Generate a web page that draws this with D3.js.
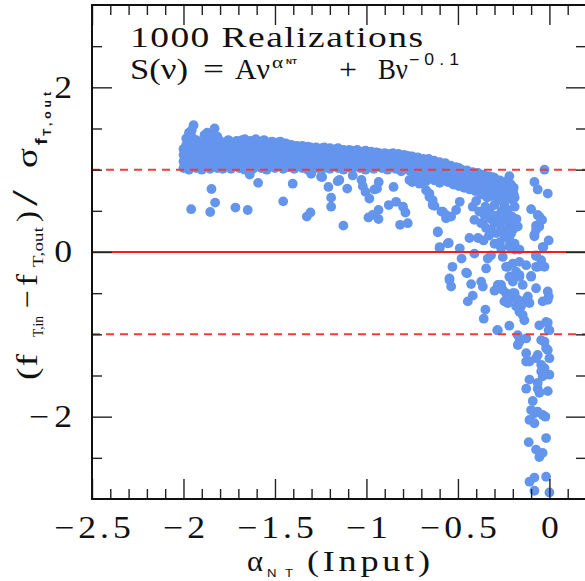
<!DOCTYPE html>
<html>
<head>
<meta charset="utf-8">
<script src="https://cdn.jsdelivr.net/npm/d3@7/dist/d3.min.js"></script>
<style>
  html, body { margin: 0; padding: 0; background: #fff; }
  svg { display: block; }
  text { fill: #111; }
</style>
</head>
<body>
<svg id="chart" width="585" height="581"></svg>
<script>
// ---- tick values ----
const xMajorTicks = [-2.5, -2, -1.5, -1, -0.5, 0];
const xTickLabels = ["\u22122.5", "\u22122", "\u22121.5", "\u22121", "\u22120.5", "0"];
const xMinorTicks = [-2.4, -2.3, -2.2, -2.1, -1.9, -1.8, -1.7, -1.6, -1.4, -1.3, -1.2, -1.1,
                     -0.9, -0.8, -0.7, -0.6, -0.4, -0.3, -0.2, -0.1, 0.1];
const yMajorTicks = [-2, 0, 2];
const yTickLabels = ["\u22122", "0", "2"];
const yMinorTicks = [-2.5, -1.5, -1, -0.5, 0.5, 1, 1.5, 2.5];
const refSolid = [0];
const refDashed = [-1, 1];

// ---- realizations: input alpha_NT vs normalised thermal-flux residual ----
// plateau: columns of [alpha, [residuals...]]
const plateauColumns = [
  [-2.000, [1.02, 1.10, 1.18, 1.25]],
  [-1.985, [1.05, 1.14, 1.22, 1.30, 1.38]],
  [-1.970, [1.00, 1.08, 1.20, 1.33, 1.45]],
  [-1.955, [1.03, 1.12, 1.26, 1.40, 1.48]],
  [-1.945, [1.16, 1.30, 1.54]],
  [-1.930, [1.02, 1.10, 1.21, 1.36]],
  [-1.915, [1.05, 1.15, 1.25, 1.32]],
  [-1.900, [1.00, 1.09, 1.19, 1.28]],
  [-1.885, [1.04, 1.13, 1.22, 1.35, 1.42]],
  [-1.870, [1.07, 1.17, 1.27, 1.45]],
  [-1.855, [1.01, 1.11, 1.21, 1.31, 1.39]],
  [-1.840, [1.05, 1.15, 1.24, 1.35, 1.43]],
  [-1.830, [1.09, 1.19, 1.50]],
  [-1.815, [1.02, 1.12, 1.22, 1.30, 1.40]],
  [-1.800, [1.06, 1.16, 1.26, 1.35]],
  [-1.785, [1.01, 1.10, 1.19, 1.29]],
  [-1.770, [1.04, 1.13, 1.23, 1.32]],
  [-1.755, [1.08, 1.17, 1.27, 1.36]],
  [-1.740, [1.01, 1.11, 1.21, 1.30]],
  [-1.725, [1.05, 1.15, 1.24, 1.33]],
  [-1.710, [1.09, 1.18, 1.27, 1.35]],
  [-1.695, [1.02, 1.12, 1.22, 1.31]],
  [-1.680, [1.06, 1.15, 1.25, 1.36]],
  [-1.665, [1.00, 1.10, 1.19, 1.29, 1.37]],
  [-1.650, [1.04, 1.13, 1.23, 1.32]],
  [-1.635, [1.08, 1.17, 1.26, 1.35]],
  [-1.620, [1.01, 1.11, 1.20, 1.30]],
  [-1.605, [1.05, 1.14, 1.24, 1.37]],
  [-1.590, [1.09, 1.18, 1.28, 1.34]],
  [-1.575, [1.02, 1.12, 1.21, 1.31]],
  [-1.560, [1.06, 1.15, 1.25, 1.36]],
  [-1.545, [1.00, 1.10, 1.19, 1.29]],
  [-1.530, [1.04, 1.13, 1.23, 1.33]],
  [-1.515, [1.08, 1.17, 1.26, 1.34]],
  [-1.500, [1.02, 1.11, 1.20, 1.30]],
  [-1.485, [1.05, 1.15, 1.24, 1.33]],
  [-1.470, [1.09, 1.18, 1.27, 1.34]],
  [-1.455, [1.01, 1.12, 1.21, 1.30]],
  [-1.440, [1.06, 1.15, 1.24, 1.32]],
  [-1.425, [1.03, 1.10, 1.19, 1.28]],
  [-1.410, [1.07, 1.14, 1.23, 1.30]],
  [-1.395, [1.01, 1.11, 1.18, 1.27]],
  [-1.380, [1.05, 1.15, 1.22, 1.29]],
  [-1.365, [1.09, 1.19, 1.26]],
  [-1.350, [1.02, 1.12, 1.21, 1.29]],
  [-1.335, [1.06, 1.16, 1.24]],
  [-1.320, [1.00, 1.10, 1.19, 1.28]],
  [-1.305, [1.04, 1.13, 1.22, 1.27]],
  [-1.290, [1.08, 1.17, 1.25]],
  [-1.275, [1.02, 1.11, 1.20, 1.27]],
  [-1.260, [1.06, 1.15, 1.23]],
  [-1.245, [1.00, 1.09, 1.18, 1.26]],
  [-1.230, [1.04, 1.13, 1.21, 1.27]],
  [-1.215, [1.07, 1.16, 1.24]],
  [-1.200, [1.01, 1.11, 1.19, 1.26]],
  [-1.185, [1.05, 1.14, 1.22]],
  [-1.170, [1.08, 1.17, 1.25]],
  [-1.155, [1.02, 1.11, 1.20, 1.26]],
  [-1.140, [1.06, 1.15, 1.23]],
  [-1.125, [1.00, 1.09, 1.18, 1.24]],
  [-1.110, [1.04, 1.13, 1.21]],
  [-1.095, [1.07, 1.16, 1.24]],
  [-1.080, [1.01, 1.10, 1.19, 1.23]],
  [-1.065, [1.05, 1.14, 1.21]],
  [-1.050, [1.08, 1.17, 1.24]],
  [-1.035, [1.02, 1.11, 1.19]],
  [-1.020, [1.06, 1.14, 1.22]],
  [-1.005, [1.00, 1.09, 1.17, 1.23]],
  [-0.990, [1.04, 1.12, 1.20]],
  [-0.975, [1.07, 1.15, 1.22]],
  [-0.960, [1.01, 1.10, 1.18]],
  [-0.945, [1.05, 1.13, 1.21]],
  [-0.930, [1.08, 1.16, 1.20]],
  [-0.915, [1.02, 1.11, 1.18]],
  [-0.900, [1.06, 1.14, 1.20]],
  [-0.885, [1.00, 1.09, 1.17]],
  [-0.870, [1.04, 1.12, 1.19]],
  [-0.855, [1.07, 1.15, 1.20]],
  [-0.840, [1.01, 1.10, 1.17]],
  [-0.825, [1.05, 1.13, 1.19]],
  [-0.810, [0.98, 1.08, 1.16]],
  [-0.795, [1.03, 1.11, 1.18]],
  [-0.780, [1.06, 1.14, 1.17]],
  [-0.765, [0.99, 1.09, 1.16]],
  [-0.750, [1.02, 1.12, 1.16]],
  [-0.735, [0.95, 1.06, 1.14]],
  [-0.720, [0.99, 1.09, 1.15]],
  [-0.705, [0.88, 0.96, 1.04, 1.12]],
  [-0.690, [0.92, 1.01, 1.08, 1.13]],
  [-0.675, [0.86, 0.97, 1.05, 1.12]],
  [-0.660, [0.90, 0.99, 1.08, 1.13]],
  [-0.645, [0.94, 1.03, 1.10]],
  [-0.630, [0.87, 0.97, 1.06, 1.11]],
  [-0.615, [0.91, 1.00, 1.08]],
  [-0.600, [0.84, 0.94, 1.03, 1.09]],
  [-0.585, [0.88, 0.97, 1.05]],
  [-0.570, [0.92, 1.00, 1.08]],
  [-0.555, [0.85, 0.95, 1.03]],
  [-0.540, [0.89, 0.98, 1.05]],
  [-0.525, [0.82, 0.93, 1.01]],
  [-0.510, [0.87, 0.96, 1.03]],
  [-0.495, [0.80, 0.90, 0.99, 1.02]],
  [-0.480, [0.84, 0.93, 1.00]],
  [-0.465, [0.78, 0.88, 0.97]],
  [-0.450, [0.82, 0.91, 0.99]],
  [-0.435, [0.76, 0.86, 0.95]],
  [-0.420, [0.80, 0.89, 0.97]],
  [-0.405, [0.74, 0.84, 0.93]],
  [-0.390, [0.78, 0.87, 0.96]],
  [-0.375, [0.72, 0.82, 0.91]],
  [-0.360, [0.76, 0.85, 0.94]],
  [-0.345, [0.70, 0.80, 0.89]],
  [-0.330, [0.74, 0.83, 0.92]],
  [-0.315, [0.68, 0.78, 0.87]],
  [-0.300, [0.72, 0.81, 0.90]],
  [-0.285, [0.66, 0.76, 0.85]],
  [-0.270, [0.70, 0.79, 0.87]],
  [-0.255, [0.74, 0.83]],
  [-0.240, [0.68, 0.79, 0.85]],
  [-0.225, [0.72, 0.80]],
  [-0.210, [0.66, 0.76, 0.82]],
  [-0.195, [0.70, 0.78]]
];

// points falling below the plateau at steep input indices
const plateauOutliers = [
  [-1.958, 0.52], [-1.847, 0.765], [-1.827, 0.60], [-1.854, 0.486], [-1.716, 0.54],
  [-1.649, 0.51], [-1.592, 0.84], [-1.638, 0.94], [-1.455, 0.615], [-1.403, 0.83],
  [-1.326, 0.43], [-1.306, 0.48], [-1.302, 0.95], [-1.242, 0.91], [-1.208, 0.79],
  [-1.193, 0.66], [-1.193, 0.55], [-1.157, 0.86], [-1.126, 0.32], [-1.105, 0.77],
  [-1.075, 0.93], [-1.027, 0.875], [-1.020, 0.80], [-1.005, 0.73], [-0.984, 0.65],
  [-0.989, 0.42], [-0.966, 0.45], [-0.934, 0.51], [-0.934, 0.40], [-0.942, 0.77],
  [-0.933, 0.85], [-0.878, 0.57], [-0.838, 0.61], [-0.800, 0.55], [-0.787, 0.48],
  [-0.852, 0.79], [-0.816, 0.33], [-0.774, 0.35], [-0.750, 0.85], [-0.710, 0.83],
  [-0.656, 0.71], [-0.638, 0.63], [-0.628, 0.56], [-0.583, 0.49], [-0.565, 0.41],
  [-0.610, 0.24], [-0.600, 0.06], [-0.556, 0.105], [-1.248, 0.915], [-1.148, 0.875],
  [-0.765, 0.875], [-0.956, 0.76]
];

// turnover region, alpha between about -0.7 and -0.15
const turnover = [
  [-0.610, 0.25], [-0.600, 0.045], [-0.550, 0.11], [-0.490, 0.045], [-0.480, -0.08],
  [-0.530, -0.18], [-0.546, -0.32], [-0.455, -0.25], [-0.437, 0.17], [-0.410, -0.02],
  [-0.390, 0.17], [-0.364, 0.35], [-0.410, 0.39], [-0.346, -0.20], [-0.337, -0.08],
  [-0.319, -0.04], [-0.264, 0.045], [-0.255, -0.06], [-0.219, 0.15], [-0.190, 0.03],
  [-0.164, 0.03], [-0.228, -0.18], [-0.200, -0.14], [-0.164, -0.12], [-0.127, -0.16],
  [-0.182, -0.24], [-0.164, -0.28], [-0.209, -0.30], [-0.310, 0.91], [-0.291, 0.79],
  [-0.255, 0.75], [-0.237, 0.65], [-0.273, 0.63], [-0.300, 0.57], [-0.328, 0.51],
  [-0.355, 0.45], [-0.373, 0.35], [-0.346, 0.29], [-0.319, 0.27], [-0.291, 0.23],
  [-0.246, 0.19], [-0.219, 0.33], [-0.209, 0.43], [-0.228, 0.51], [-0.246, 0.57],
  [-0.383, 0.49], [-0.419, 0.55], [-0.490, 0.61], [-0.510, 0.51], [-0.537, 0.43],
  [-0.565, 0.45], [-0.590, 0.49], [-0.638, 0.57], [-0.656, 0.67], [-0.674, 0.75],
  [-0.173, 0.31], [-0.200, 0.75], [-0.228, 0.77], [-0.219, 0.92], [-0.209, 0.75],
  [-0.200, 0.63], [-0.204, 0.43], [-0.255, 0.39], [-0.255, 0.63],
  [-0.400, 0.62], [-0.370, 0.70], [-0.340, 0.66], [-0.310, 0.70], [-0.280, 0.72],
  [-0.260, 0.50], [-0.290, 0.44], [-0.320, 0.40], [-0.350, 0.55], [-0.240, 0.41],
  [-0.270, 0.33], [-0.230, 0.27], [-0.210, 0.22], [-0.260, 0.26], [-0.300, 0.35],
  [-0.330, 0.20], [-0.360, 0.14], [-0.300, 0.10], [-0.270, 0.12], [-0.220, 0.07],
  [-0.190, 0.10], [-0.200, 0.27], [-0.180, 0.40], [-0.190, 0.55], [-0.190, 0.66],
  [-0.546, -0.34], [-0.537, -0.42], [-0.450, -0.26], [-0.428, -0.39], [-0.446, -0.60],
  [-0.419, -0.53], [-0.373, -0.36], [-0.364, -0.42], [-0.300, -0.47], [-0.264, -0.40],
  [-0.255, -0.46], [-0.350, -0.70], [-0.359, -0.81], [-0.282, -0.95], [-0.219, -0.895],
  [-0.246, -0.60], [-0.228, -0.62], [-0.200, -0.56], [-0.182, -0.66], [-0.164, -0.725],
  [-0.146, -0.765], [-0.137, -0.83], [-0.200, -0.50], [-0.164, -0.30], [-0.146, -0.40],
  [-0.127, -0.58], [-0.118, -0.54], [-0.109, -0.62], [-0.237, -0.18], [-0.219, -0.30],
  [-0.200, -0.36], [-0.190, -0.50], [-0.173, -0.58], [-0.155, -0.66], [-0.237, -0.50],
  [-0.282, -0.40], [-0.285, -0.95]
];

// flattest inputs, alpha close to 0
const nearFlat = [
  [-0.027, 1.00], [-0.082, 0.85], [-0.064, 0.76], [-0.009, 0.71], [-0.100, 0.52],
  [-0.064, 0.45], [-0.045, 0.39], [-0.073, 0.32], [-0.082, 0.21], [-0.004, 0.14],
  [-0.037, 0.06], [-0.073, -0.04], [-0.045, -0.10], [-0.037, -0.17], [-0.009, -0.48],
  [-0.037, -0.60], [-0.009, -0.58], [-0.055, -0.89], [-0.009, -0.86], [0.000, -0.95],
  [-0.173, -1.01], [-0.164, -1.09], [-0.127, -1.05], [-0.173, -1.13], [-0.045, -1.07],
  [-0.027, -1.09], [-0.018, -1.17], [-0.127, -1.23], [-0.127, -1.33], [-0.109, -1.33],
  [-0.100, -0.30], [-0.064, -0.18], [-0.073, -0.44], [-0.100, -0.29],
  [-0.055, 0.43], [-0.040, 0.39], [-0.055, 0.31], [-0.073, 0.27], [-0.082, 0.19],
  [-0.033, 0.06], [-0.073, -0.05], [-0.027, -0.18], [-0.073, -0.18], [-0.004, -0.54],
  [-0.018, -0.85], [-0.004, -0.95], [-0.009, -1.19],
  [-0.064, -1.25], [-0.073, -1.29], [-0.045, -1.37], [-0.027, -1.41], [-0.045, -1.45],
  [-0.037, -1.51], [0.000, -1.29], [0.000, -1.49], [-0.109, -1.55], [-0.127, -1.66],
  [-0.064, -1.59], [-0.064, -1.66], [-0.055, -1.71], [-0.009, -1.69], [-0.091, -1.81],
  [-0.100, -1.92], [-0.109, -2.04], [-0.082, -2.08], [-0.082, -1.96], [-0.064, -1.94],
  [-0.037, -1.98], [-0.022, -2.00], [-0.113, -2.31], [-0.018, -2.26], [-0.073, -2.40],
  [-0.055, -2.49], [-0.037, -2.44], [-0.109, -2.79], [-0.082, -2.74], [-0.018, -2.73],
  [-0.082, -2.90], [0.000, -2.92]
];

const points = [];
plateauColumns.forEach(([a, ys]) => ys.forEach(r => points.push([a, r])));
plateauOutliers.forEach(p => points.push(p));
turnover.forEach(p => points.push(p));
nearFlat.forEach(p => points.push(p));

// ---- layout ----
const svg = d3.select("#chart");
const plotLeft = 92, plotRight = 586, plotTop = 5, plotBottom = 499;
const x = d3.scaleLinear().domain([-2.5, 0.2]).range([plotLeft, plotRight]);
const y = d3.scaleLinear().domain([-3, 3]).range([plotBottom, plotTop]);

const serif = "'Liberation Serif', 'DejaVu Serif', serif";
const sans = "'Liberation Sans', 'DejaVu Sans', sans-serif";

// stretch a text horizontally about px, then widen its letter gaps to fill target
function fitText(t, px, target, stretch = 1) {
  const w = t.node().getComputedTextLength();
  let s = stretch;
  if (w * s > target) s = target / w;
  t.attr("transform", `translate(${px},0) scale(${s},1) translate(${-px},0)`);
  if (w * s < target - 0.5) {
    t.attr("textLength", target / s).attr("lengthAdjust", "spacing");
  }
  return t;
}

// points
svg.append("g")
  .selectAll("circle")
  .data(points)
  .join("circle")
  .attr("cx", d => x(d[0]))
  .attr("cy", d => y(d[1]))
  .attr("r", 4.9)
  .attr("fill", "#6495ED");

// reference lines
svg.append("g").selectAll("line")
  .data(refSolid).join("line")
  .attr("x1", plotLeft).attr("x2", plotRight)
  .attr("y1", d => y(d)).attr("y2", d => y(d))
  .attr("stroke", "#ff1a1a").attr("stroke-width", 2);
svg.append("g").selectAll("line")
  .data(refDashed).join("line")
  .attr("x1", plotLeft).attr("x2", plotRight)
  .attr("y1", d => y(d)).attr("y2", d => y(d))
  .attr("stroke", "#ee3b3b").attr("stroke-width", 2)
  .attr("stroke-dasharray", "8,6");

// ticks on all four sides, pointing inward
function tickAxis(axisFn, scale, values, len, transform, labels, pad = 19) {
  const ax = axisFn(scale).tickValues(values).tickSizeInner(-len).tickSizeOuter(0);
  if (labels) ax.tickFormat((d, i) => labels[i]).tickPadding(pad);
  else ax.tickFormat("");
  const g = svg.append("g").attr("transform", transform).call(ax);
  g.attr("font-family", serif);
  g.select(".domain").remove();
  g.selectAll(".tick line").attr("stroke", "#222").attr("stroke-width", 1.4);
  g.selectAll(".tick text").attr("font-family", serif).attr("font-size", 31).attr("fill", "#111");
  return g;
}
tickAxis(d3.axisBottom, x, xMinorTicks, 10, `translate(0,${plotBottom})`);
const xLab = tickAxis(d3.axisBottom, x, xMajorTicks, 20, `translate(0,${plotBottom})`, xTickLabels, 17);
tickAxis(d3.axisTop, x, xMinorTicks, 10, `translate(0,${plotTop})`);
tickAxis(d3.axisTop, x, xMajorTicks, 20, `translate(0,${plotTop})`);
tickAxis(d3.axisLeft, y, yMinorTicks, 10, `translate(${plotLeft},0)`);
const yLab = tickAxis(d3.axisLeft, y, yMajorTicks, 20, `translate(${plotLeft},0)`, yTickLabels, 20);
tickAxis(d3.axisRight, y, yMinorTicks, 10, `translate(${plotRight},0)`);
tickAxis(d3.axisRight, y, yMajorTicks, 20, `translate(${plotRight},0)`);

// tick labels: wider glyphs and open letter gaps
xLab.selectAll(".tick text").each(function () {
  const t = d3.select(this);
  const n = t.text().length;
  const w = this.getComputedTextLength();
  const target = w * 1.15 + 4 * (n - 1);
  t.attr("text-anchor", "start").attr("x", -target / 2);
  fitText(t, -target / 2, target, 1.15);
});
yLab.selectAll(".tick text").each(function () {
  const t = d3.select(this);
  const n = t.text().length;
  const w = this.getComputedTextLength();
  const target = w * 1.15 + 5 * (n - 1);
  t.attr("text-anchor", "start").attr("x", -20 - target);
  fitText(t, -20 - target, target, 1.15);
});

// frame
svg.append("rect")
  .attr("x", plotLeft).attr("y", plotTop)
  .attr("width", plotRight - plotLeft).attr("height", plotBottom - plotTop)
  .attr("fill", "none").attr("stroke", "#111").attr("stroke-width", 2);

// annotation
function txt(parent, s, px, py, size, opts = {}) {
  const t = parent.append("text")
    .attr("x", px).attr("y", py)
    .attr("font-family", opts.family || serif)
    .attr("font-size", size)
    .text(s);
  if (opts.anchor) t.attr("text-anchor", opts.anchor);
  if (opts.style) t.attr("font-style", opts.style);
  if (opts.weight) t.attr("font-weight", opts.weight);
  if (opts.len) fitText(t, px, opts.len, opts.stretch || 1.25);
  return t;
}
txt(svg, "1000 Realizations", 130, 47, 30, { len: 293 });
txt(svg, "S(\u03BD)", 130, 79, 30, { len: 58 });
txt(svg, "=", 203, 79, 30, { len: 21 });
txt(svg, "A\u03BD", 235, 79, 30, { len: 35 });
txt(svg, "\u03B1", 272, 68, 17, { len: 13 });
txt(svg, "NT", 286, 64, 8, { family: sans, weight: "bold", len: 11 });
txt(svg, "+", 339, 79, 30, { len: 18 });
txt(svg, "B\u03BD", 378, 79, 30, { len: 30 });
txt(svg, "\u22120.1", 409, 65, 16, { family: sans, len: 50, stretch: 1.1 });

// x axis title
txt(svg, "\u03B1", 247, 571, 29, { len: 16 });
txt(svg, "NT", 267, 577, 11, { family: sans, len: 26, stretch: 1.2 });
txt(svg, "(Input)", 307, 571, 29, { len: 123 });

// y axis title, rotated to read upward
const yl = svg.append("g").attr("transform", "translate(37,236) rotate(-90)");
txt(yl, "(f", -144, 0, 30, { len: 26 });
txt(yl, "T,in", -101, 6, 15, { len: 21 });
txt(yl, "\u2212", -72, 0, 30, { len: 18 });
txt(yl, "f", -50, 0, 30, { len: 12 });
txt(yl, "T,out", -31, 6, 15, { len: 40 });
txt(yl, ")", 14, 0, 30, { len: 11 });
txt(yl, "/", 30, 0, 36, { len: 24, stretch: 1.6 });
txt(yl, "\u03C3", 68, 0, 30, { len: 20 });
txt(yl, "f", 91, 10, 16, { family: sans, weight: "bold", len: 8 });
txt(yl, "T,out", 100, 14, 11, { family: sans, weight: "bold", len: 44, stretch: 1.1 });
</script>
</body>
</html>
